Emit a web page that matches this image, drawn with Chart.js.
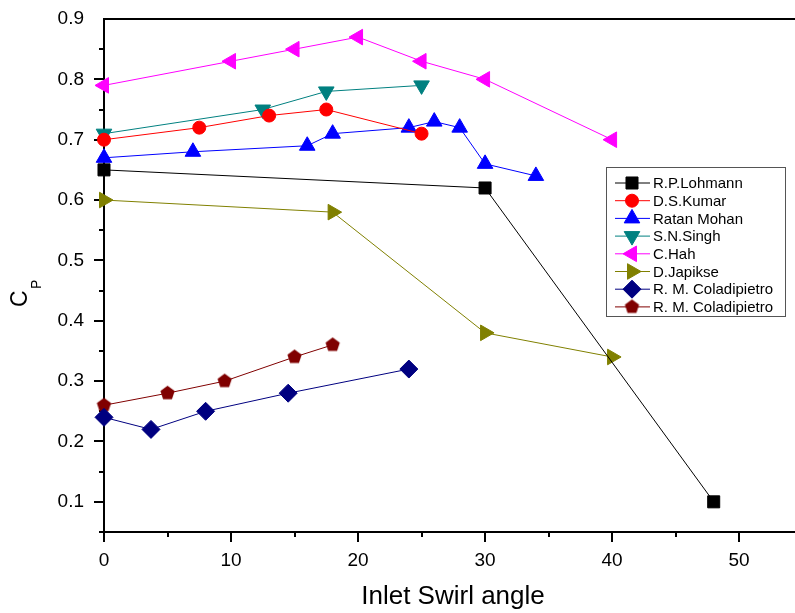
<!DOCTYPE html>
<html>
<head>
<meta charset="utf-8">
<title>Cp vs inlet swirl angle</title>
<script src="https://cdn.jsdelivr.net/npm/chart.js@4.4.1/dist/chart.umd.min.js"></script>
<style>
  body { margin: 0; background: #fff; }
  canvas { display: block; }
</style>
</head>
<body>
<canvas id="myChart" width="795" height="613"></canvas>
<script>
// swirl angle (deg) and pressure recovery for each source
var angleLohmann = [0, 30, 48];
var cpLohmann = [0.65, 0.62, 0.10];

var angleKumar = [0, 7.5, 13, 17.5, 25];
var cpKumar = [0.70, 0.72, 0.74, 0.75, 0.71];

var angleMohan = [0, 7, 16, 18, 24, 26, 28, 30, 34];
var cpMohan = [0.67, 0.68, 0.69, 0.71, 0.72, 0.73, 0.72, 0.66, 0.64];

var angleSingh = [0, 12.5, 17.5, 25];
var cpSingh = [0.71, 0.75, 0.78, 0.79];

var angleHah = [0, 10, 15, 20, 25, 30, 40];
var cpHah = [0.79, 0.83, 0.85, 0.87, 0.83, 0.80, 0.70];

var angleJapikse = [0, 18, 30, 40];
var cpJapikse = [0.60, 0.58, 0.38, 0.34];

var angleColadipietro1 = [0, 3.7, 8, 14.5, 24];
var cpColadipietro1 = [0.24, 0.22, 0.25, 0.28, 0.32];

var angleColadipietro2 = [0, 5, 9.5, 15, 18];
var cpColadipietro2 = [0.26, 0.28, 0.30, 0.34, 0.36];

var xTicks = [0, 10, 20, 30, 40, 50];
var yTicks = [0.1, 0.2, 0.3, 0.4, 0.5, 0.6, 0.7, 0.8, 0.9];

var FONT = '"Liberation Sans", Arial, sans-serif';

// Chart.js has no pentagon marker, so make one on a small canvas
function pentagon(r, color) {
  var c = document.createElement('canvas');
  c.width = c.height = Math.ceil(r * 2 + 2);
  var g = c.getContext('2d');
  g.fillStyle = color;
  g.beginPath();
  for (var i = 0; i < 5; i++) {
    var a = -Math.PI / 2 + i * 2 * Math.PI / 5;
    g.lineTo(c.width / 2 + r * Math.cos(a), c.height / 2 + r * Math.sin(a));
  }
  g.closePath();
  g.fill();
  return c;
}

function series(label, xs, ys, color, style, radius, rotation) {
  return {
    label: label,
    data: xs.map(function (x, i) { return { x: x, y: ys[i] }; }),
    borderColor: color,
    backgroundColor: color,
    borderWidth: 1,
    pointStyle: style,
    pointRadius: radius,
    pointRotation: rotation || 0,
    pointBorderColor: color,
    pointBackgroundColor: color,
    pointBorderWidth: 1,
    clip: false,
    tension: 0
  };
}

var datasets = [
  series('R.P.Lohmann', angleLohmann, cpLohmann, '#000000', 'rect', 8.5),
  series('D.S.Kumar', angleKumar, cpKumar, '#ff0000', 'circle', 6.5),
  series('Ratan Mohan', angleMohan, cpMohan, '#0000ff', 'triangle', 9),
  series('S.N.Singh', angleSingh, cpSingh, '#008080', 'triangle', 9, 180),
  series('C.Hah', angleHah, cpHah, '#ff00ff', 'triangle', 9, -90),
  series('D.Japikse', angleJapikse, cpJapikse, '#808000', 'triangle', 9, 90),
  series('R. M. Coladipietro', angleColadipietro1, cpColadipietro1, '#000080', 'rectRot', 9),
  series('R. M. Coladipietro', angleColadipietro2, cpColadipietro2, '#800000', pentagon(7.5, '#800000'), 7.5)
];

// axes frame, major/minor ticks and axis titles
var frame = {
  id: 'frame',
  beforeDatasetsDraw: function (chart) {
    var ctx = chart.ctx, a = chart.chartArea;
    var xs = chart.scales.x, ys = chart.scales.y;
    ctx.save();
    ctx.strokeStyle = '#000';
    ctx.lineWidth = 2;
    ctx.beginPath();
    ctx.moveTo(a.right, a.top);
    ctx.lineTo(a.left, a.top);
    ctx.lineTo(a.left, a.bottom);
    ctx.lineTo(a.right, a.bottom);
    ctx.stroke();

    ctx.beginPath();
    for (var v = 0; v <= 50; v += 5) {
      var px = Math.round(xs.getPixelForValue(v));
      var len = v % 10 === 0 ? 10 : 5;
      ctx.moveTo(px, a.bottom);
      ctx.lineTo(px, a.bottom + len);
    }
    for (var k = 1; k <= 17; k++) {
      var val = k * 0.05;
      var py = Math.round(ys.getPixelForValue(val));
      var l2 = k % 2 === 0 ? 10 : 5;
      ctx.moveTo(a.left, py);
      ctx.lineTo(a.left - l2, py);
    }
    ctx.stroke();

    ctx.fillStyle = '#000';
    ctx.font = '26px ' + FONT;
    ctx.textAlign = 'center';
    ctx.textBaseline = 'alphabetic';
    ctx.fillText('Inlet Swirl angle', 453, 604);

    // C with subscript P, rotated
    ctx.translate(27, 307);
    ctx.rotate(-Math.PI / 2);
    ctx.textAlign = 'left';
    ctx.font = '23px ' + FONT;
    ctx.fillText('C', 0, 0);
    ctx.font = '14px ' + FONT;
    ctx.fillText('P', 18, 14);
    ctx.restore();
  }
};

// boxed legend with a line sample and marker per series
var legendBox = {
  id: 'legendBox',
  afterDraw: function (chart) {
    var ctx = chart.ctx;
    var left = 606, top = 167, width = 179, height = 149;
    ctx.save();
    ctx.fillStyle = '#fff';
    ctx.fillRect(left, top, width, height);
    ctx.strokeStyle = '#555';
    ctx.lineWidth = 1;
    ctx.strokeRect(left + 0.5, top + 0.5, width, height);
    ctx.font = '15px ' + FONT;
    ctx.textBaseline = 'middle';
    chart.data.datasets.forEach(function (ds, i) {
      var y = 183 + i * 17.7;
      ctx.strokeStyle = ds.borderColor;
      ctx.beginPath();
      ctx.moveTo(615, y);
      ctx.lineTo(650, y);
      ctx.stroke();
      ctx.fillStyle = ds.pointBackgroundColor;
      Chart.helpers.drawPoint(ctx, {
        pointStyle: ds.pointStyle,
        rotation: ds.pointRotation,
        radius: ds.pointRadius,
        borderWidth: 1
      }, 632, y);
      ctx.fillStyle = '#000';
      ctx.fillText(ds.label, 653, y + 1);
    });
    ctx.restore();
  }
};

var ctx = document.getElementById('myChart').getContext('2d');
var myChart = new Chart(ctx, {
  type: 'line',
  data: { datasets: datasets },
  options: {
    responsive: false,
    animation: false,
    devicePixelRatio: 1,
    layout: { autoPadding: false, padding: { top: 19, right: 0, left: 0, bottom: 0 } },
    plugins: {
      legend: { display: false },
      tooltip: { enabled: false }
    },
    scales: {
      x: {
        type: 'linear',
        min: 0,
        max: 54.4,
        afterFit: function (s) {
          s.height = 81;
          s.paddingLeft = 0;
          s.paddingRight = 0;
        },
        afterBuildTicks: function (s) {
          s.ticks = xTicks.map(function (v) { return { value: v }; });
        },
        grid: { display: false, drawTicks: false },
        border: { display: false },
        ticks: {
          color: '#000',
          font: { family: FONT, size: 19 },
          padding: 17,
          maxRotation: 0,
          callback: function (v) { return String(v); }
        }
      },
      y: {
        type: 'linear',
        min: 0.05,
        max: 0.9,
        afterFit: function (s) {
          s.width = 104;
          s.paddingTop = 0;
          s.paddingBottom = 0;
        },
        afterBuildTicks: function (s) {
          s.ticks = yTicks.map(function (v) { return { value: v }; });
        },
        grid: { display: false, drawTicks: false },
        border: { display: false },
        ticks: {
          color: '#000',
          font: { family: FONT, size: 19 },
          padding: 20,
          callback: function (v) { return v.toFixed(1); }
        }
      }
    }
  },
  plugins: [frame, legendBox]
});
</script>
</body>
</html>
